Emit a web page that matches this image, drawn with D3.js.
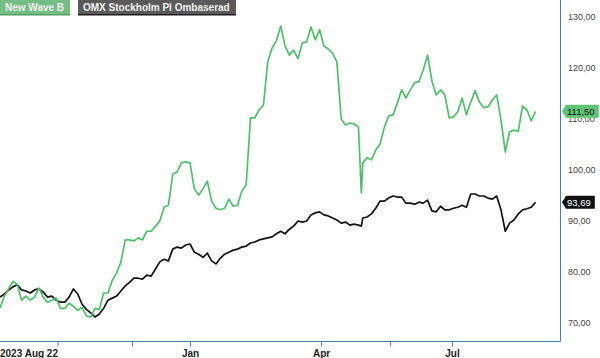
<!DOCTYPE html>
<html>
<head>
<meta charset="utf-8">
<script src="https://cdn.jsdelivr.net/npm/d3@7"></script>
<style>
  body { margin: 0; background: #fff; }
  svg { display: block; font-family: "Liberation Sans", Arial, sans-serif; }
</style>
</head>
<body>
<div id="chart"></div>
<script>
// data, one reading every ~3 days
const dates = [
  "2023-08-22","2023-08-25","2023-08-28","2023-08-31",
  "2023-09-03","2023-09-06","2023-09-09","2023-09-12","2023-09-15","2023-09-18","2023-09-21","2023-09-24","2023-09-27","2023-09-30",
  "2023-10-03","2023-10-06","2023-10-09","2023-10-12","2023-10-15","2023-10-18","2023-10-21","2023-10-24","2023-10-27","2023-10-30",
  "2023-11-02","2023-11-05","2023-11-08","2023-11-11","2023-11-14","2023-11-17","2023-11-20","2023-11-23","2023-11-26","2023-11-29",
  "2023-12-02","2023-12-05","2023-12-08","2023-12-11","2023-12-14","2023-12-17","2023-12-20","2023-12-23","2023-12-26","2023-12-29",
  "2024-01-01","2024-01-04","2024-01-07","2024-01-10","2024-01-13","2024-01-16","2024-01-19","2024-01-22","2024-01-25","2024-01-28","2024-01-31",
  "2024-02-03","2024-02-06","2024-02-09","2024-02-12","2024-02-15","2024-02-18","2024-02-21","2024-02-24","2024-02-27",
  "2024-03-01","2024-03-04","2024-03-07","2024-03-10","2024-03-13","2024-03-16","2024-03-19","2024-03-22","2024-03-25","2024-03-28","2024-03-31",
  "2024-04-03","2024-04-06","2024-04-09","2024-04-12","2024-04-15","2024-04-18","2024-04-21","2024-04-24","2024-04-27","2024-04-29","2024-04-30",
  "2024-05-03","2024-05-06","2024-05-09","2024-05-12","2024-05-15","2024-05-18","2024-05-21","2024-05-24","2024-05-27","2024-05-30",
  "2024-06-02","2024-06-05","2024-06-08","2024-06-11","2024-06-14","2024-06-17","2024-06-20","2024-06-23","2024-06-26","2024-06-29",
  "2024-07-02","2024-07-05","2024-07-08","2024-07-11","2024-07-14","2024-07-17","2024-07-20","2024-07-23","2024-07-26","2024-07-29",
  "2024-08-01","2024-08-04","2024-08-07","2024-08-10","2024-08-13","2024-08-16","2024-08-19","2024-08-22","2024-08-25","2024-08-28"
];

const newWaveB = [
  72.9, 75.3, 76.7, 78.2,
  77.6, 74.5, 75.3, 74.5, 75.1, 76.9, 75.1, 74.1, 74.5, 74.9,
  72.9, 72.9, 73.9, 73.3, 72.5, 73.1, 71.4, 71.2, 72.9, 72.7,
  75.9, 75.9, 78.4, 79.8, 82.0, 86.3, 86.3, 86.1, 86.7, 86.3,
  88.0, 88.0, 89.0, 90.0, 92.7, 93.1, 99.2, 99.6, 101.4, 101.6,
  101.4, 96.3, 95.1, 96.3, 97.8, 93.9, 92.5, 92.2, 92.5, 94.3, 92.9,
  93.1, 95.9, 97.1, 110.2, 110.2, 111.8, 112.7, 121.2, 123.9,
  125.3, 128.2, 124.3, 122.5, 123.5, 121.8, 124.9, 125.1, 128.0, 125.5, 127.5,
  124.3, 123.7, 122.9, 121.2, 110.0, 108.8, 109.2, 109.0, 108.4, 95.5, 101.4,
  102.4, 102.0, 103.9, 105.1, 108.4, 110.6, 110.8, 113.1, 115.7, 114.1,
  115.7, 117.1, 117.3, 119.6, 122.5, 117.5, 114.7, 115.7, 114.7, 110.2,
  110.4, 111.4, 114.1, 110.8, 113.3, 115.5, 113.3, 112.2, 112.4, 113.7,
  114.7, 109.8, 103.5, 107.5, 107.8, 107.6, 112.5, 111.8, 109.6, 111.50
];

const omxPi = [
  75.1, 75.7, 76.5, 77.1,
  77.5, 76.5, 76.3, 75.9, 76.5, 76.7, 76.1, 75.1, 75.3, 74.5,
  74.1, 74.1, 75.1, 76.7, 75.7, 73.7, 72.7, 72.0, 71.2, 71.8,
  72.9, 74.5, 74.9, 75.3, 76.3, 77.3, 78.0, 78.8, 78.8, 78.6,
  79.4, 79.2, 80.6, 82.0, 82.5, 82.2, 84.5, 84.9, 84.7, 85.3,
  85.5, 83.9, 83.5, 82.9, 83.7, 82.2, 81.6, 82.7, 83.5, 83.9, 84.3,
  84.5, 84.9, 85.1, 85.7, 85.9, 86.3, 86.5, 86.7, 86.9,
  87.5, 88.0, 87.5, 88.4, 89.0, 90.0, 89.8, 90.0, 91.2, 91.6, 91.8,
  91.2, 91.0, 90.6, 90.2, 89.6, 89.8, 89.2, 89.4, 89.2, 89.0, 90.6,
  90.8, 91.4, 92.5, 93.9, 93.9, 94.5, 94.9, 94.7, 94.7, 93.5,
  93.5, 93.3, 93.7, 93.5, 94.1, 92.0, 91.8, 92.9, 92.2, 92.2,
  92.5, 92.7, 93.1, 92.7, 95.3, 95.3, 94.9, 94.9, 94.5, 94.3,
  94.9, 92.2, 88.0, 89.6, 90.2, 91.4, 92.2, 92.4, 92.7, 93.69
];

const yTicks = [70, 80, 90, 100, 110, 120, 130];
const xTicks = ["2023-10-01", "2024-01-01", "2024-04-01", "2024-07-01"];
const xTickLabels = ["", "Jan", "Apr", "Jul"];
const markerDates = ["2023-11-22", "2024-05-19"];
const startLabel = "2023 Aug 22";
const seriesNames = ["New Wave B", "OMX Stockholm PI Ombaserad"];

// properties
let width = 600,
    height = 358,
    plotRight = 560,
    plotBottom = 341,
    green = "#4cc266",
    axisBlue = "#3f80a8";

let parse = d3.timeParse("%Y-%m-%d");
let sv = d3.formatLocale({decimal: ",", thousands: " ", grouping: [3], currency: ["", ""]});
let fmt = sv.format(".2f");

let svg = d3.select("#chart")
    .append("svg")
        .attr("width", width)
        .attr("height", height);

// scales
// ---------------------------------------------------
let x = d3.scaleTime()
    .domain([parse("2023-08-22"), parse("2024-09-14")])
    .range([0, plotRight]);

let y = d3.scaleLinear()
    .domain([66.5, 133.3])
    .range([plotBottom, 0]);

let rows = dates.map((d, i) => ({date: parse(d), g: newWaveB[i], b: omxPi[i]}));

// frame
// ---------------------------------------------------
svg.append("line")
    .attr("x1", plotRight + 0.5).attr("x2", plotRight + 0.5)
    .attr("y1", 0).attr("y2", plotBottom + 0.5)
    .attr("stroke", axisBlue);

let xAxis = d3.axisBottom(x)
    .tickValues(xTicks.map(parse))
    .tickSize(5)
    .tickFormat((d, i) => xTickLabels[i]);

let gx = svg.append("g")
    .attr("transform", `translate(0,${plotBottom + 0.5})`)
    .call(xAxis);
gx.select(".domain")
    .attr("d", `M0,0H${plotRight + 0.5}`)
    .attr("stroke", axisBlue);
gx.selectAll(".tick line").attr("stroke", axisBlue);
gx.selectAll(".tick text")
    .attr("y", 15.5)
    .attr("dy", null)
    .attr("fill", "#222")
    .style("font-size", "10px")
    .style("font-weight", "bold")
    .style("font-family", "'Liberation Sans', Arial, sans-serif");

svg.append("g")
    .selectAll("line")
    .data(markerDates.map(parse))
    .enter()
    .append("line")
        .attr("x1", d => Math.round(x(d)) + 0.5)
        .attr("x2", d => Math.round(x(d)) + 0.5)
        .attr("y1", plotBottom + 1)
        .attr("y2", plotBottom + 5.5)
        .attr("stroke", "#e8595e");

svg.append("text")
    .attr("x", 0)
    .attr("y", 357)
    .attr("fill", "#222")
    .style("font-size", "10px")
    .style("font-weight", "bold")
    .text(startLabel);

// right axis labels
svg.append("g")
    .selectAll("text")
    .data(yTicks)
    .enter()
    .append("text")
        .attr("x", 568)
        .attr("y", d => y(d) + 3.2)
        .attr("fill", "#444")
        .style("font-size", "9px")
        .text(d => fmt(d));

// lines
// ---------------------------------------------------
let line = key => d3.line()
    .x(d => x(d.date))
    .y(d => y(d[key]));

svg.append("path")
    .datum(rows)
    .attr("fill", "none")
    .attr("stroke", "#111")
    .attr("stroke-width", 1.7)
    .attr("stroke-linejoin", "round")
    .attr("d", line("b"));

svg.append("path")
    .datum(rows)
    .attr("fill", "none")
    .attr("stroke", green)
    .attr("stroke-width", 1.7)
    .attr("stroke-linejoin", "round")
    .attr("d", line("g"));

// end value tags
// ---------------------------------------------------
function tag(value, fill, textColor) {
    let cy = y(value);
    let g = svg.append("g");
    let p = g.append("path").attr("fill", fill);
    let t = g.append("text")
        .attr("x", 567)
        .attr("y", cy + 3.3)
        .attr("fill", textColor)
        .style("font-size", "9.5px")
        .text(fmt(value));
    let x1 = 567 + t.node().getComputedTextLength() + 4;
    p.attr("d", `M562,${cy}L566,${cy - 6.5}H${x1}V${cy + 6.5}H566Z`);
}
tag(newWaveB[newWaveB.length - 1], "#5cc472", "#111");
tag(omxPi[omxPi.length - 1], "#111", "#fff");

// legend
// ---------------------------------------------------
let legend = [
    {name: seriesNames[0], x: 0, w: 70, fill: "#74bd83", edge: "#4f9d5f"},
    {name: seriesNames[1], x: 78, w: 158, fill: "#5a5a5a", edge: "#1e1e1e"}
];
let lg = svg.append("g")
    .selectAll("g")
    .data(legend)
    .enter()
    .append("g");
lg.append("rect")
    .attr("x", d => d.x).attr("y", 0)
    .attr("width", d => d.w).attr("height", 15)
    .attr("fill", d => d.fill);
lg.append("rect")
    .attr("x", d => d.x).attr("y", 14)
    .attr("width", d => d.w).attr("height", 1.5)
    .attr("fill", d => d.edge);
lg.append("text")
    .attr("x", d => d.x + 5)
    .attr("y", 11)
    .attr("fill", "#f4f4f4")
    .style("font-size", "10px")
    .style("font-weight", "bold")
    .text(d => d.name);
</script>
</body>
</html>
